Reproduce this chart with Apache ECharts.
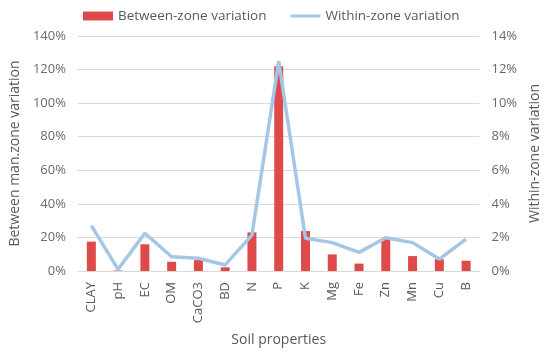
<!DOCTYPE html>
<html><head><meta charset="utf-8">
<script src="https://cdn.jsdelivr.net/npm/echarts@6/dist/echarts.min.js"></script>
<style>html,body{margin:0;padding:0;background:#fff}#c{width:550px;height:352px}</style>
</head><body><div id="c"></div>
<script>
const categories = ['CLAY','pH','EC','OM','CaCO3','BD','N','P','K','Mg','Fe','Zn','Mn','Cu','B'];
const betweenZone = [17.5, 0.3, 15.9, 5.5, 6.5, 2.2, 23, 122, 23.8, 9.9, 4.4, 19.5, 8.9, 7, 6.1];
const withinZone = [2.7, 0.1, 2.25, 0.85, 0.76, 0.36, 2.14, 12.5, 1.95, 1.69, 1.11, 1.98, 1.69, 0.71, 1.9];
const leftTicks = [0, 140, 20];
const rightTicks = [0, 14, 2];

const font = '"Open Sans", "Liberation Sans", sans-serif';
const grey = '#595959';
const chart = echarts.init(document.getElementById('c'));
chart.setOption({
  animation: false,
  textStyle: {fontFamily: font},
  legend: {
    top: 4, left: 78, itemGap: 24, itemWidth: 30, itemHeight: 9,
    textStyle: {color: grey, fontSize: 13.5, fontFamily: font},
    data: [{name: 'Between-zone variation', icon: 'rect'},
           {name: 'Within-zone variation', icon: 'path://M0,0 L30,0 L30,3 L0,3 Z'}]
  },
  grid: {left: 72, right: 65, top: 36, bottom: 81},
  xAxis: {
    type: 'category', data: categories,
    name: 'Soil properties', nameLocation: 'middle', nameGap: 62,
    nameTextStyle: {color: grey, fontSize: 14, fontFamily: font},
    axisLine: {lineStyle: {color: '#d9d9d9'}},
    axisTick: {show: false},
    axisLabel: {rotate: 90, color: grey, fontSize: 13, fontFamily: font, margin: 11}
  },
  yAxis: [{
    type: 'value', min: leftTicks[0], max: leftTicks[1], interval: leftTicks[2],
    name: 'Between man.zone variation', nameLocation: 'middle', nameGap: 47,
    nameTextStyle: {color: grey, fontSize: 14, fontFamily: font},
    axisLabel: {formatter: v => v + '%', color: '#6a6a6a', fontSize: 13, fontFamily: font, margin: 12},
    splitLine: {lineStyle: {color: '#d9d9d9'}},
    axisLine: {show: false}, axisTick: {show: false}
  }, {
    type: 'value', min: rightTicks[0], max: rightTicks[1], interval: rightTicks[2],
    name: 'Within-zone variation', nameLocation: 'middle', nameGap: 44,
    nameTextStyle: {color: grey, fontSize: 14, fontFamily: font},
    axisLabel: {formatter: v => v + '%', color: '#6a6a6a', fontSize: 13, fontFamily: font, margin: 12},
    splitLine: {show: false},
    axisLine: {show: false}, axisTick: {show: false}
  }],
  series: [{
    name: 'Between-zone variation', type: 'bar', data: betweenZone,
    barWidth: 9, itemStyle: {color: '#DE4A4A'}
  }, {
    name: 'Within-zone variation', type: 'line', yAxisIndex: 1, data: withinZone,
    symbol: 'none', lineStyle: {color: '#A4C6E7', width: 3.5},
    itemStyle: {color: '#A4C6E7'}
  }]
});
</script></body></html>
